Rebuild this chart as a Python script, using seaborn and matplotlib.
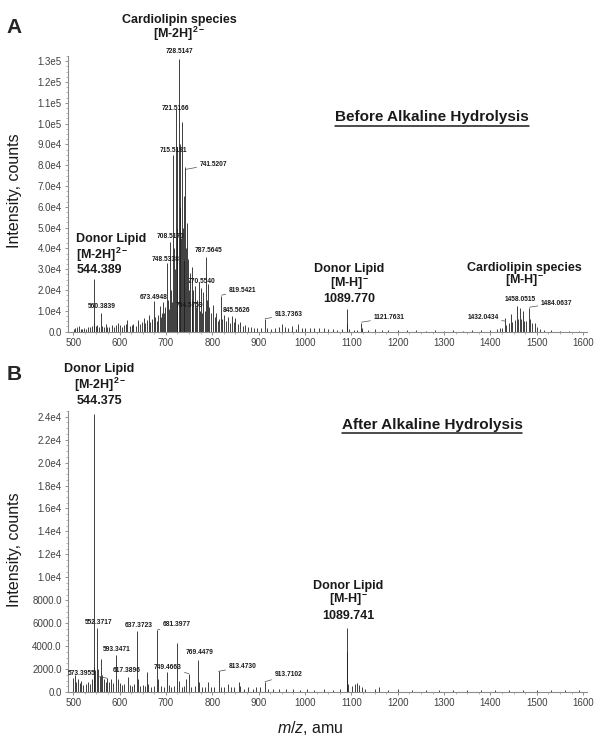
import matplotlib
matplotlib.use("Agg")
import matplotlib.pyplot as plt
from matplotlib.lines import Line2D
from matplotlib.ticker import AutoMinorLocator
import pandas as pd
import seaborn as sns

# Panel A: before alkaline hydrolysis (m/z, counts)
mz_before = [
    502, 505, 509, 512, 516, 520, 524, 528, 533, 537,
    541, 544.4, 546, 549, 552, 556, 560.4, 563, 566, 570,
    574, 578, 583, 588, 592, 596, 600, 605, 609, 613,
    617, 622, 626, 630, 635, 640, 644, 648, 652, 656,
    660, 663, 666, 670, 673.5, 676, 680, 683, 686.5, 689,
    692, 694.5, 697, 699, 701.5, 704, 706, 708.5, 711, 713,
    715.5, 717, 719, 721.5, 723, 725, 728.5, 730, 731.5, 733,
    734.5, 736, 738.5, 740, 741.5, 743, 745, 748.5, 750, 752,
    755.5, 757, 759, 762.5, 765, 767, 770.5, 773, 776.5, 778,
    780.5, 784, 787.5, 789, 791, 794, 798, 801.5, 805, 808,
    812, 815, 819.5, 822, 826, 829, 833, 838, 843, 847,
    850, 855, 860, 866, 871, 877, 884, 890, 897, 905,
    913.7, 919, 926, 935, 944, 951, 957, 963, 972, 980,
    985, 993, 1000, 1010, 1020, 1030, 1040, 1050, 1060, 1070,
    1080, 1089.8, 1091, 1095, 1105, 1112, 1121.8, 1123, 1135, 1150,
    1165, 1180, 1200, 1220, 1240, 1260, 1280, 1300, 1320, 1340,
    1360, 1380, 1400, 1415, 1420, 1425, 1432, 1434, 1439, 1445,
    1447, 1452, 1458, 1460, 1464, 1466, 1471, 1473, 1477, 1484,
    1486, 1490, 1497, 1500, 1506, 1515, 1530, 1550, 1570, 1590,
]
counts_before = [
    1200, 1500, 2400, 2500, 1400, 1200, 1800, 1000, 2200, 2000,
    2600, 25500, 4000, 2500, 3000, 2000, 9000, 2500, 2000, 3500,
    2200, 2000, 3000, 2400, 3200, 4200, 3000, 2200, 3000, 3500,
    5500, 2800, 3200, 3800, 2600, 5500, 3500, 4500, 6500, 4000,
    5500, 8000, 4500, 6000, 14500, 7000, 5000, 8000, 12500, 7000,
    9000, 14000, 9000, 12000, 33000, 15000, 11000, 43000, 20000, 14000,
    85000, 40000, 30000, 107000, 50000, 88000, 131000, 60000, 90000, 45000,
    101000, 50000, 65000, 35000, 79000, 40000, 52000, 35000, 20000, 28000,
    31000, 15000, 20000, 22000, 12000, 15000, 24000, 10000, 21000, 9000,
    19000, 10000, 36000, 15000, 23000, 12000, 9000, 13000, 7000, 9000,
    5000, 6000, 17000, 6000, 8000, 5000, 7000, 4000, 7500, 4500,
    6500, 3500, 4500, 2500, 3000, 2000, 2200, 1500, 1800, 1500,
    6000, 1500, 1200, 1800, 2000, 3500, 2000, 1500, 2500, 1200,
    3500, 1500, 1800, 1500, 1800, 1600, 1500, 1200, 1100, 900,
    1000, 11000, 3500, 1000, 800, 900, 4300, 1500, 800, 1000,
    600, 700, 500, 600, 500, 400, 600, 400, 500, 400,
    500, 600, 500, 1200, 1800, 1500, 6500, 3000, 4000, 8500,
    4500, 5500, 12500, 6000, 11500, 6000, 10000, 5000, 5000, 11500,
    6000, 4000, 4000, 2000, 1200, 600, 500, 400, 400, 300,
]

# Panel B: after alkaline hydrolysis
mz_after = [
    500, 503, 507, 510, 514, 518, 522, 527, 532, 537,
    541, 544.4, 546, 548, 552.4, 554, 557, 560, 563, 566,
    570, 573.4, 577, 582, 587, 593.3, 596, 600, 605, 610,
    617.4, 622, 628, 632, 637.4, 640, 645, 650, 654, 659,
    662, 668, 674, 681.4, 684, 690, 696, 703, 706, 712,
    718, 725, 728, 734, 740, 744, 749.5, 755, 762, 769.4,
    772, 778, 785, 791, 797, 804, 813.5, 818, 825, 835,
    840, 847, 857, 860, 868, 878, 887, 895, 903, 913.7,
    920, 930, 945, 960, 975, 990, 1005, 1020, 1040, 1060,
    1075, 1089.7, 1090.5, 1093, 1102, 1108, 1112, 1116, 1122, 1130,
    1150, 1160, 1180, 1200, 1230, 1260, 1290, 1320, 1350, 1380,
    1410, 1440, 1470, 1500, 1530, 1560, 1590,
]
counts_after = [
    1200, 1500, 900, 1100, 800, 1000, 600, 700, 900, 700,
    1100, 24200, 2200, 1900, 5600, 2000, 1400, 2900, 1500, 1100,
    900, 1200, 900, 1100, 800, 3200, 1100, 800, 600, 700,
    1350, 600, 500, 700, 5300, 1100, 500, 600, 500, 1700,
    700, 450, 500, 5400, 1100, 500, 450, 1700, 600, 450,
    500, 4300, 1000, 450, 500, 1100, 1600, 450, 500, 2800,
    900, 450, 400, 900, 400, 450, 1800, 450, 400, 700,
    400, 450, 900, 500, 300, 400, 300, 450, 400, 900,
    300, 250, 300, 250, 250, 200, 250, 200, 250, 200,
    250, 5600, 3500, 700, 500, 700, 800, 600, 400, 250,
    250, 400, 200, 250, 200, 200, 150, 200, 150, 200,
    150, 200, 150, 200, 150, 150, 150,
]

x_ticks = [500, 600, 700, 800, 900, 1000, 1100, 1200, 1300, 1400, 1500, 1600]
y_ticks_before = [0, 1e4, 2e4, 3e4, 4e4, 5e4, 6e4, 7e4, 8e4, 9e4, 1e5, 1.1e5, 1.2e5, 1.3e5]
y_labels_before = ["0.0", "1.0e4", "2.0e4", "3.0e4", "4.0e4", "5.0e4", "6.0e4", "7.0e4",
                   "8.0e4", "9.0e4", "1.0e5", "1.1e5", "1.2e5", "1.3e5"]
y_ticks_after = [0, 2000, 4000, 6000, 8000, 1e4, 1.2e4, 1.4e4, 1.6e4, 1.8e4, 2e4, 2.2e4, 2.4e4]
y_labels_after = ["0.0", "2000.0", "4000.0", "6000.0", "8000.0", "1.0e4", "1.2e4", "1.4e4",
                  "1.6e4", "1.8e4", "2.0e4", "2.2e4", "2.4e4"]

df_before = pd.DataFrame({"mz": mz_before, "counts": counts_before})
df_after = pd.DataFrame({"mz": mz_after, "counts": counts_after})

sns.set_theme(style="ticks")
plt.rcParams["font.family"] = ["Liberation Sans", "DejaVu Sans"]
plt.rcParams["mathtext.fontset"] = "custom"
plt.rcParams["mathtext.rm"] = "Liberation Sans"
plt.rcParams["mathtext.it"] = "Liberation Sans:italic"
plt.rcParams["mathtext.bf"] = "Liberation Sans:bold"

fig = plt.figure(figsize=(6.02, 7.42), dpi=100)
ax_a = fig.add_axes([0.113, 0.5532, 0.862, 0.3712])
ax_b = fig.add_axes([0.113, 0.0674, 0.862, 0.3787])


def style_axis(ax, ymax, yticks, ylabels):
    ax.set_xlim(489, 1608)
    ax.set_ylim(0, ymax)
    ax.set_xticks(x_ticks)
    ax.set_xticklabels([str(t) for t in x_ticks])
    ax.set_yticks(yticks)
    ax.set_yticklabels(ylabels)
    ax.xaxis.set_minor_locator(AutoMinorLocator(4))
    ax.yaxis.set_minor_locator(AutoMinorLocator(4))
    ax.tick_params(labelsize=7, labelcolor="0.25", color="0.5", length=2.5, width=0.6, pad=2)
    ax.tick_params(which="minor", length=1.5, width=0.5, color="0.6")
    sns.despine(ax=ax)
    for s in ["left", "bottom"]:
        ax.spines[s].set_color("0.55")
        ax.spines[s].set_linewidth(0.8)
    ax.set_xlabel("")
    ax.set_ylabel("")


def draw_sticks(ax, df):
    ax.vlines(df["mz"], 0, df["counts"], color="0.12", linewidth=0.6)


def peak_label(ax, text, pos, ha="center", peak=None):
    if peak is None:
        ax.text(pos[0], pos[1], text, ha=ha, va="center", fontsize=4.8,
                fontweight="bold", color="0.1")
    else:
        ax.annotate(text, xy=peak, xytext=pos, ha=ha, va="center", fontsize=4.8,
                    fontweight="bold", color="0.1",
                    arrowprops=dict(arrowstyle="-", color="0.3", lw=0.5,
                                    shrinkA=0, shrinkB=0))


def block(ax, lines, x, ys, ha="center", size=9):
    for line, y in zip(lines, ys):
        ax.text(x, y, line, ha=ha, va="center", fontsize=size, fontweight="bold",
                color="0.1")


# ---- panel A
draw_sticks(ax_a, df_before)
style_axis(ax_a, 1.325e5, y_ticks_before, y_labels_before)

peak_label(ax_a, "728.5147", (729, 1.345e5))
peak_label(ax_a, "721.5166", (720, 1.071e5))
peak_label(ax_a, "715.5191", (717, 8.7e4))
peak_label(ax_a, "741.5207", (773, 8.05e4), ha="left", peak=(743, 7.8e4))
peak_label(ax_a, "708.5170", (711, 4.55e4))
peak_label(ax_a, "748.5338", (729, 3.46e4), ha="right", peak=(748.5, 3.4e4))
peak_label(ax_a, "770.5540", (747, 2.42e4), ha="left")
peak_label(ax_a, "754.5759", (750, 1.23e4))
peak_label(ax_a, "673.4948", (674, 1.66e4))
peak_label(ax_a, "560.3839", (561, 1.18e4))
peak_label(ax_a, "787.5645", (791, 3.9e4))
peak_label(ax_a, "819.5421", (836, 1.95e4), ha="left", peak=(820, 1.75e4))
peak_label(ax_a, "845.5626", (852, 1.0e4))
peak_label(ax_a, "913.7363", (935, 8.0e3), ha="left", peak=(914, 6.2e3))
peak_label(ax_a, "1121.7631", (1148, 6.6e3), ha="left", peak=(1122, 4.5e3))
peak_label(ax_a, "1432.0434", (1417, 6.6e3), ha="right", peak=(1432, 5.0e3))
peak_label(ax_a, "1458.0515", (1465, 1.56e4))
peak_label(ax_a, "1484.0637", (1509, 1.37e4), ha="left", peak=(1484, 1.17e4))

block(ax_a, ["Cardiolipin species", "[M-2H]$^{\\mathbf{2-}}$"], 729, [1.498e5, 1.43e5])
block(ax_a, ["Donor Lipid", "[M-2H]$^{\\mathbf{2-}}$", "544.389"], 507,
      [4.45e4, 3.7e4, 2.95e4], ha="left")
block(ax_a, ["Donor Lipid", "[M-H]$^{\\mathbf{-}}$", "1089.770"], 1096, [3.0e4, 2.3e4, 1.56e4])
block(ax_a, ["Cardiolipin species", "[M-H]$^{\\mathbf{-}}$"], 1474, [3.08e4, 2.42e4])
title_a = ax_a.text(1274, 1.03e5, "Before Alkaline Hydrolysis", ha="center", va="center",
                    fontsize=11, fontweight="bold", color="0.1")

# ---- panel B
draw_sticks(ax_b, df_after)
style_axis(ax_b, 2.45e4, y_ticks_after, y_labels_after)

peak_label(ax_b, "552.3717", (555, 6.1e3))
peak_label(ax_b, "593.3471", (595, 3.7e3))
peak_label(ax_b, "637.3723", (641, 5.8e3))
peak_label(ax_b, "681.3977", (694, 5.9e3), ha="left", peak=(681.4, 5.4e3))
peak_label(ax_b, "769.4479", (772, 3.4e3))
peak_label(ax_b, "749.4663", (733, 2.1e3), ha="right", peak=(749.5, 1.6e3))
peak_label(ax_b, "617.3896", (615, 1.9e3))
peak_label(ax_b, "573.3955", (548, 1.6e3), ha="right", peak=(573.4, 1.2e3))
peak_label(ax_b, "813.4730", (836, 2.2e3), ha="left", peak=(813.5, 1.8e3))
peak_label(ax_b, "913.7102", (935, 1.5e3), ha="left", peak=(913.7, 900))

block(ax_b, ["Donor Lipid", "[M-2H]$^{\\mathbf{2-}}$", "544.375"], 557, [2.82e4, 2.68e4, 2.54e4])
block(ax_b, ["Donor Lipid", "[M-H]$^{\\mathbf{-}}$", "1089.741"], 1094, [9.25e3, 8.0e3, 6.6e3])
title_b = ax_b.text(1274, 2.33e4, "After Alkaline Hydrolysis", ha="center", va="center",
                    fontsize=11, fontweight="bold", color="0.1")

# panel letters and axis titles
fig.text(14.5 / 602, 1 - 27.5 / 742, "A", ha="center", va="center", fontsize=15, fontweight="bold")
fig.text(14.5 / 602, 1 - 374.5 / 742, "B", ha="center", va="center", fontsize=15, fontweight="bold")
fig.text(15 / 602, 1 - 191 / 742, "Intensity, counts", rotation=90, ha="center", va="center",
         fontsize=11.5, color="0.1")
fig.text(15 / 602, 1 - 550 / 742, "Intensity, counts", rotation=90, ha="center", va="center",
         fontsize=11.5, color="0.1")
fig.text(310 / 602, 1 - 728 / 742, "$m/z$, amu", ha="center", va="center", fontsize=11.5,
         color="0.1")

# underline the two condition titles
fig.canvas.draw()
renderer = fig.canvas.get_renderer()
W, H = fig.bbox.width, fig.bbox.height
for t in (title_a, title_b):
    bb = t.get_window_extent(renderer)
    y = bb.y0 - 1.5
    fig.add_artist(Line2D([bb.x0 / W, bb.x1 / W], [y / H, y / H], transform=fig.transFigure,
                          color="0.1", linewidth=1.1))

fig.savefig("out.png", dpi=100, facecolor="white")
